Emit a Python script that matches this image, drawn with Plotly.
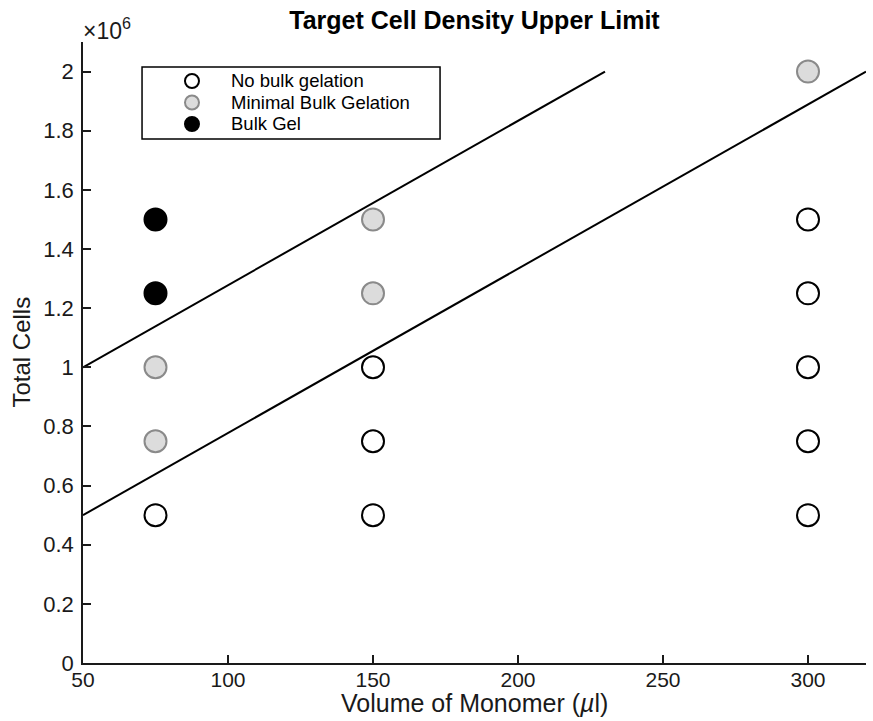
import plotly.graph_objects as go

# Data
none_x = [75, 150, 150, 150, 300, 300, 300, 300, 300]
none_y = [0.5e6, 0.5e6, 0.75e6, 1.0e6, 0.5e6, 0.75e6, 1.0e6, 1.25e6, 1.5e6]
min_x = [75, 75, 150, 150, 300]
min_y = [0.75e6, 1.0e6, 1.25e6, 1.5e6, 2.0e6]
gel_x = [75, 75]
gel_y = [1.25e6, 1.5e6]
line1_x = [50, 230]
line1_y = [1.0e6, 2.0e6]
line2_x = [50, 320]
line2_y = [0.5e6, 2.0e6]
xticks = [50, 100, 150, 200, 250, 300]
yticks = [0, 0.2e6, 0.4e6, 0.6e6, 0.8e6, 1.0e6, 1.2e6, 1.4e6, 1.6e6, 1.8e6, 2.0e6]
ytick_text = ["0", "0.2", "0.4", "0.6", "0.8", "1", "1.2", "1.4", "1.6", "1.8", "2"]
series_names = ["No bulk gelation", "Minimal Bulk Gelation", "Bulk Gel"]

FONT = "Liberation Sans, Arial, Helvetica, sans-serif"
TXT = "#1a1a1a"

styles = [
    dict(fill="white", edge="black"),
    dict(fill="#dcdcdc", edge="#8a8a8a"),
    dict(fill="black", edge="black"),
]

fig = go.Figure()
fig.add_trace(go.Scatter(x=line1_x, y=line1_y, mode="lines",
                         line=dict(color="black", width=2), showlegend=False))
fig.add_trace(go.Scatter(x=line2_x, y=line2_y, mode="lines",
                         line=dict(color="black", width=2), showlegend=False))
for (xs, ys), name, st in zip([(none_x, none_y), (min_x, min_y), (gel_x, gel_y)],
                              series_names, styles):
    fig.add_trace(go.Scatter(x=xs, y=ys, mode="markers", name=name, showlegend=False,
                             marker=dict(size=22, color=st["fill"],
                                         line=dict(color=st["edge"], width=2))))

fig.update_layout(
    width=873, height=721,
    margin=dict(l=83, r=7, t=42, b=58),
    plot_bgcolor="white", paper_bgcolor="white",
    font=dict(family=FONT, size=22, color=TXT),
    title=dict(text="<b>Target Cell Density Upper Limit</b>", x=0.5435, xanchor="center",
               y=0.972, yanchor="middle", font=dict(size=25, color="black")),
    showlegend=False,
    xaxis=dict(range=[50, 320], tickvals=xticks, ticks="inside", ticklen=8,
               tickwidth=1.5, tickcolor=TXT, showline=True, linecolor=TXT,
               linewidth=1.5, showgrid=False, zeroline=False,
               tickfont=dict(size=21), ticklabelstandoff=-3),
    yaxis=dict(range=[0, 2.1e6], tickvals=yticks, ticktext=ytick_text, ticks="inside",
               ticklen=8, tickwidth=1.5, tickcolor=TXT, showline=True, linecolor=TXT,
               linewidth=1.5, showgrid=False, zeroline=False,
               tickfont=dict(size=22), ticklabelstandoff=3),
)

# axis titles
fig.add_annotation(text="Volume of Monomer (<i>µ</i>l)", xref="paper", yref="paper",
                   x=0.5, y=0, xanchor="center", yanchor="middle", yshift=-40,
                   showarrow=False, font=dict(size=25, color=TXT))
fig.add_annotation(text="Total Cells", xref="paper", yref="paper", x=0, y=0.5,
                   xanchor="center", yanchor="middle", xshift=-62, textangle=-90,
                   showarrow=False, font=dict(size=24, color=TXT))

# exponent label
fig.add_annotation(text="×10<sup>6</sup>", xref="paper", yref="paper", x=0, y=1.0,
                   xanchor="left", yanchor="bottom", showarrow=False,
                   font=dict(size=23, color=TXT), yshift=-4, xshift=-2)

# manual legend (box, glyphs, labels)
fig.add_shape(type="rect", xref="paper", yref="paper", x0=0.0754, x1=0.456,
              y0=0.8438, y1=0.9597, line=dict(color="black", width=1.5),
              fillcolor="white", layer="above")
row_y = [0.9372, 0.9026, 0.8680]
for name, st, ry in zip(series_names, styles, row_y):
    fig.add_shape(type="circle", xref="paper", yref="paper", xsizemode="pixel",
                  ysizemode="pixel", xanchor=0.1392, yanchor=ry, x0=-7, x1=7, y0=-7, y1=7,
                  fillcolor=st["fill"], line=dict(color=st["edge"], width=2), layer="above")
    fig.add_annotation(text=name, xref="paper", yref="paper", x=0.1916, y=ry,
                       xanchor="left", yanchor="middle", showarrow=False, xshift=-3,
                       borderpad=0, font=dict(size=18.5, color="black"))

fig.write_html("out.html")
